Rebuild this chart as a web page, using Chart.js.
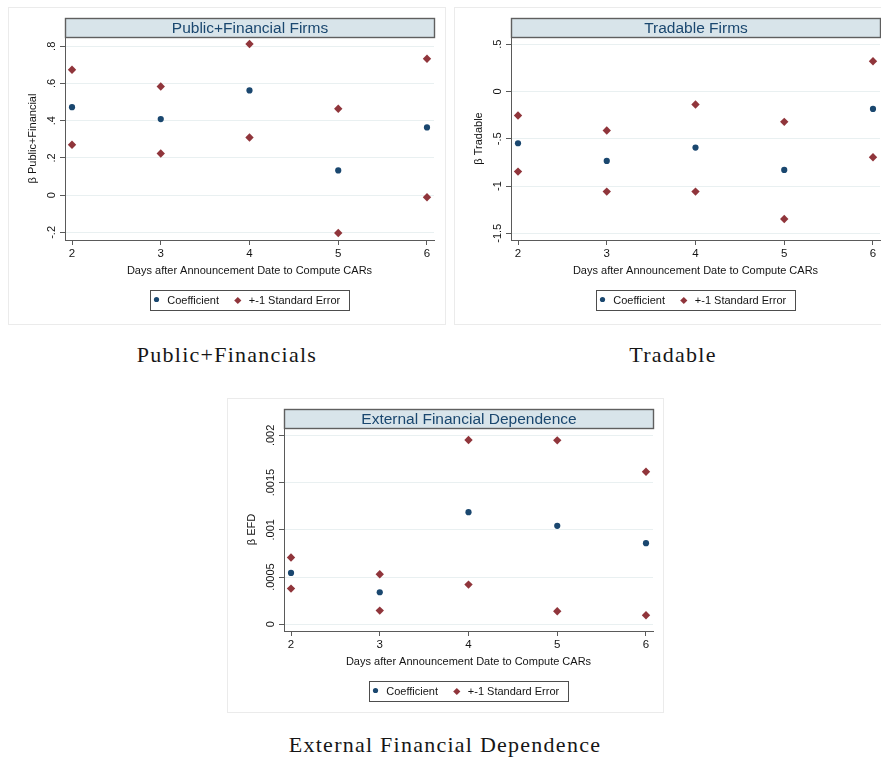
<!DOCTYPE html>
<html>
<head>
<meta charset="utf-8">
<script src="https://cdn.jsdelivr.net/npm/chart.js@4.4.1/dist/chart.umd.min.js"></script>
<style>
  html, body { margin: 0; padding: 0; background: #fff; width: 881px; height: 759px; overflow: hidden; }
  canvas { position: absolute; display: block; }
  .cap { position: absolute; font-family: "Liberation Serif", "Times New Roman", serif; font-size: 22px;
         line-height: 24px; color: #161616; white-space: nowrap; letter-spacing: 1.25px;
         transform: translateX(-50%); }
</style>
</head>
<body>
<canvas id="c1" width="438" height="318" style="left:8px;top:7px;width:438px;height:318px"></canvas>
<canvas id="c2" width="438" height="318" style="left:454px;top:7px;width:438px;height:318px"></canvas>
<canvas id="c3" width="437" height="315" style="left:227px;top:398px;width:437px;height:315px"></canvas>
<div class="cap" style="left:227px;top:343px">Public+Financials</div>
<div class="cap" style="left:673px;top:343px">Tradable</div>
<div class="cap" style="left:445px;top:733px">External Financial Dependence</div>
<script>
// Horizon (days after the announcement) used to compute the CARs
const days = [2, 3, 4, 5, 6];
const dayTicks = [2, 3, 4, 5, 6];

// Public + financial firms: coefficient and +/-1 standard error bounds
const pubCoef  = [0.473, 0.409, 0.563, 0.133, 0.364];
const pubUpper = [0.674, 0.584, 0.812, 0.464, 0.733];
const pubLower = [0.271, 0.224, 0.310, -0.203, -0.011];
const pubTicks = [-0.2, 0, 0.2, 0.4, 0.6, 0.8];
const pubTickLabels = ['-.2', '0', '.2', '.4', '.6', '.8'];

// Tradable firms
const tradCoef  = [-0.547, -0.734, -0.593, -0.830, -0.184];
const tradUpper = [-0.254, -0.413, -0.138, -0.321, 0.321];
const tradLower = [-0.847, -1.059, -1.059, -1.348, -0.695];
const tradTicks = [-1.5, -1, -0.5, 0, 0.5];
const tradTickLabels = ['-1.5', '-1', '-.5', '0', '.5'];

// External financial dependence
const efdCoef  = [0.000544, 0.000339, 0.001187, 0.001042, 0.000859];
const efdUpper = [0.000707, 0.000530, 0.001951, 0.001947, 0.001615];
const efdLower = [0.000378, 0.000145, 0.000420, 0.000138, 0.0000954];
const efdTicks = [0, 0.0005, 0.001, 0.0015, 0.002];
const efdTickLabels = ['0', '.0005', '.001', '.0015', '.002'];

const seriesNames = ['Coefficient', '+-1 Standard Error'];
const xTitle = 'Days after Announcement Date to Compute CARs';

const SANS = "'Liberation Sans', Arial, Helvetica, sans-serif";
const NAVY = '#1a476f';
const MAROON = '#90353b';
const AXIS = '#5a5a5a';
const GRID = '#e9f0f1';
const TEXT = '#141414';

Chart.defaults.font.family = SANS;

function drawMarker(ctx, style, x, y, r, color) {
  ctx.fillStyle = color;
  ctx.beginPath();
  if (style === 'circle') {
    ctx.arc(x, y, r, 0, Math.PI * 2);
  } else {
    ctx.moveTo(x, y - r); ctx.lineTo(x + r, y); ctx.lineTo(x, y + r); ctx.lineTo(x - r, y);
    ctx.closePath();
  }
  ctx.fill();
}

// Light frame around each graph region
const panelFrame = {
  id: 'panelFrame',
  beforeDraw(chart) {
    const { ctx, width, height } = chart;
    ctx.save();
    ctx.fillStyle = '#fff';
    ctx.fillRect(0, 0, width, height);
    ctx.strokeStyle = '#ebebeb';
    ctx.lineWidth = 1;
    ctx.strokeRect(0.5, 0.5, width - 1, height - 1);
    ctx.restore();
  }
};

// Shaded title band sitting on top of the plot region
const titleBand = {
  id: 'titleBand',
  afterDraw(chart, args, opts) {
    const { ctx, chartArea } = chart;
    const l = Math.round(chartArea.left) + 0.5;
    const r = Math.round(chartArea.right) + 0.5;
    const b = Math.round(chartArea.top) + 0.5;
    const t = b - 19;
    ctx.save();
    ctx.fillStyle = '#d8e4ea';
    ctx.fillRect(l, t, r - l, b - t);
    ctx.strokeStyle = '#5f5f5f';
    ctx.lineWidth = 1.4;
    ctx.strokeRect(l, t, r - l, b - t);
    ctx.fillStyle = NAVY;
    ctx.font = '15.5px ' + SANS;
    ctx.textAlign = 'center';
    ctx.textBaseline = 'middle';
    ctx.fillText(opts.text, (l + r) / 2, (t + b) / 2 + 0.5);
    ctx.restore();
  }
};

// Vertical y tick labels, centred on their tick marks
const yTickText = {
  id: 'yTickText',
  afterDraw(chart, args, opts) {
    const { ctx } = chart;
    const scale = chart.scales.y;
    ctx.save();
    ctx.fillStyle = TEXT;
    ctx.font = '11px ' + SANS;
    ctx.textAlign = 'center';
    ctx.textBaseline = 'middle';
    scale.ticks.forEach((t, i) => {
      const y = scale.getPixelForValue(t.value);
      ctx.save();
      ctx.translate(opts.x, y);
      ctx.rotate(-Math.PI / 2);
      ctx.fillText(opts.labels[i], 0, 0);
      ctx.restore();
    });
    ctx.restore();
  }
};

// Boxed legend under the axis title
const boxLegend = {
  id: 'boxLegend',
  afterDraw(chart, args, opts) {
    const { ctx, chartArea } = chart;
    const cx = (chartArea.left + chartArea.right) / 2;
    const w = 199, h = 20;
    const left = Math.round(cx - w / 2) + 0.5;
    const top = opts.top + 0.5;
    ctx.save();
    ctx.fillStyle = '#fff';
    ctx.fillRect(left, top, w, h);
    ctx.strokeStyle = '#4d4d4d';
    ctx.lineWidth = 1;
    ctx.strokeRect(left, top, w, h);
    const cy = top + h / 2;
    const offs = [[6, 16.7], [87.3, 98.3]];
    chart.data.datasets.forEach((ds, i) => {
      const [mx, tx] = offs[i];
      const r = ds.pointStyle === 'circle' ? 2.6 : 3.6;
      drawMarker(ctx, ds.pointStyle, left + mx, cy - (ds.pointStyle === 'circle' ? 1 : 0), r, ds.backgroundColor);
      ctx.fillStyle = TEXT;
      ctx.font = '11px ' + SANS;
      ctx.textAlign = 'left';
      ctx.textBaseline = 'middle';
      ctx.fillText(ds.label, left + tx, cy + 0.5);
    });
    ctx.restore();
  }
};

function makeChart(id, cfg) {
  const canvas = document.getElementById(id);
  const W = canvas.width, H = canvas.height;
  const plotRight = 426, plotBottom = 233, plotTop = 30, axisW = 57;
  const seData = [];
  days.forEach((d, i) => {
    seData.push({ x: d, y: cfg.upper[i] });
    seData.push({ x: d, y: cfg.lower[i] });
  });
  return new Chart(canvas, {
    type: 'scatter',
    data: {
      datasets: [
        {
          label: seriesNames[0],
          data: days.map((d, i) => ({ x: d, y: cfg.coef[i] })),
          pointStyle: 'circle', pointRadius: 3.1, pointBorderWidth: 0,
          backgroundColor: NAVY, borderColor: NAVY
        },
        {
          label: seriesNames[1],
          data: seData,
          pointStyle: 'rectRot', pointRadius: 4.2, pointBorderWidth: 0,
          backgroundColor: MAROON, borderColor: MAROON
        }
      ]
    },
    options: {
      responsive: false,
      animation: false,
      events: [],
      layout: { padding: { left: 0, top: plotTop, right: W - plotRight, bottom: 0 } },
      plugins: {
        legend: { display: false },
        title: { display: false },
        tooltip: { enabled: false },
        titleBand: { text: cfg.title },
        yTickText: { x: 43.5, labels: cfg.tickLabels },
        boxLegend: { top: 283 }
      },
      scales: {
        x: {
          type: 'linear',
          min: 1.921, max: 6.079,
          afterBuildTicks: s => { s.ticks = dayTicks.map(v => ({ value: v })); },
          afterFit: s => { s.height = H - plotBottom; },
          grid: { drawOnChartArea: false, drawTicks: true, tickLength: 5, tickColor: AXIS, tickWidth: 1 },
          border: { display: true, color: AXIS, width: 1 },
          ticks: { color: TEXT, font: { size: 11.5 }, padding: 2, maxRotation: 0, minRotation: 0 },
          title: {
            display: true, text: xTitle, color: TEXT, font: { size: 11 },
            padding: { top: 0, bottom: H - 264.2 - 6.6 }
          }
        },
        y: {
          type: 'linear',
          min: cfg.min, max: cfg.max,
          afterBuildTicks: s => { s.ticks = cfg.ticks.map(v => ({ value: v })); },
          afterFit: s => { s.width = axisW; },
          grid: { color: GRID, lineWidth: 1, drawTicks: true, tickLength: 5, tickColor: AXIS, tickWidth: 1 },
          border: { display: true, color: AXIS, width: 1 },
          ticks: { display: false },
          title: {
            display: true, text: cfg.yTitle, color: TEXT, font: { size: 11 },
            padding: { top: 24.5 - 6.6, bottom: 0 }
          }
        }
      }
    },
    plugins: [panelFrame, titleBand, yTickText, boxLegend]
  });
}

makeChart('c1', {
  title: 'Public+Financial Firms', yTitle: 'β Public+Financial',
  coef: pubCoef, upper: pubUpper, lower: pubLower,
  ticks: pubTicks, tickLabels: pubTickLabels, min: -0.241, max: 0.85
});
makeChart('c2', {
  title: 'Tradable Firms', yTitle: 'β Tradable',
  coef: tradCoef, upper: tradUpper, lower: tradLower,
  ticks: tradTicks, tickLabels: tradTickLabels, min: -1.571, max: 0.577
});
makeChart('c3', {
  title: 'External Financial Dependence', yTitle: 'β EFD',
  coef: efdCoef, upper: efdUpper, lower: efdLower,
  ticks: efdTicks, tickLabels: efdTickLabels, min: -0.000071, max: 0.002078
});
</script>
</body>
</html>
